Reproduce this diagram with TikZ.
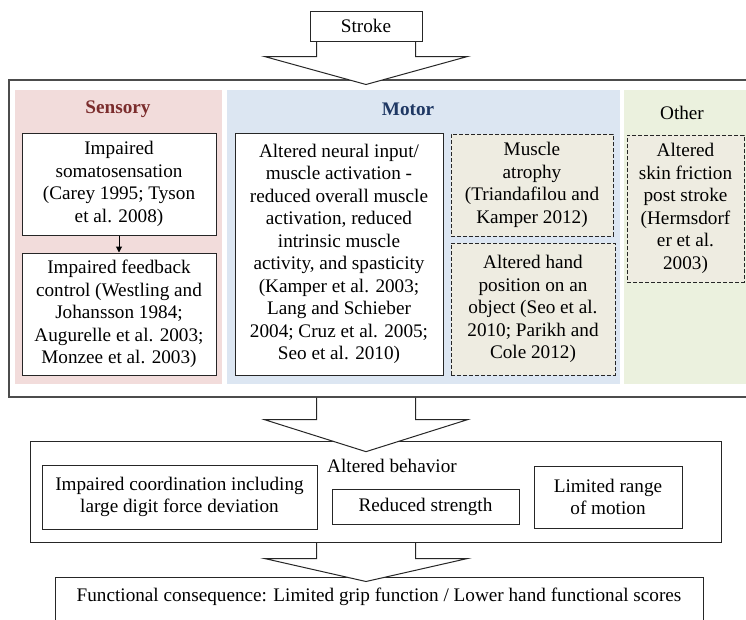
\documentclass[tikz,border=0pt]{standalone}
\usepackage{fontspec}
\setmainfont{Liberation Serif}
\usetikzlibrary{arrows.meta,calc}
\definecolor{sensefill}{HTML}{F2DCDB}
\definecolor{motorfill}{HTML}{DCE6F2}
\definecolor{otherfill}{HTML}{EBF1DE}
\definecolor{dashfill}{HTML}{EEECE1}
\definecolor{sensetitle}{HTML}{7B2D2D}
\definecolor{motortitle}{HTML}{1F3864}
\definecolor{lineclr}{HTML}{262626}
\newcommand\blockarrow[3]{%
  \fill[white] ($(#1)+(-101.5,#2)$) -- ($(#1)+(0,#2+#3)$) -- ($(#1)+(101.5,#2)$) -- cycle;
  \draw[bigarrow] ($(#1)+(-49.5,0)$) -- ++(0,#2) -- ++(-52,0) -- ++(101.5,#3) -- ++(101.5,-#3) -- ++(-52,0) -- ++(0,-#2);}
\begin{document}
\begin{tikzpicture}[x=1pt,y=-1pt,
  txt/.style={font=\fontsize{19.2}{22.5}\selectfont, inner sep=0pt, align=center},
  box/.style={txt, draw=lineclr, line width=1pt, fill=white},
  dbox/.style={box, fill=dashfill, dash pattern=on 4pt off 2pt},
  panel/.style={inner sep=0pt},
  outerbox/.style={draw=black!70, line width=1.3pt, inner sep=0pt},
  bigarrow/.style={draw=lineclr, line width=1pt},
  titletxt/.style={txt, font=\fontsize{19.2}{22.5}\selectfont\bfseries}]
\useasboundingbox (0,0) rectangle (746,619);
\clip (0,0) rectangle (746,619);

% outer box and panels
\node[outerbox, minimum width=741pt, minimum height=317pt] (outer) at (379.5,238.5) {};
\node[panel, fill=sensefill, minimum width=207pt, minimum height=294pt] (sens) at (118.5,237) {};
\node[panel, fill=motorfill, minimum width=393pt, minimum height=294pt] (mot) at (423.5,237) {};
\node[panel, fill=otherfill, minimum width=124pt, minimum height=294pt] (oth) at (686,237) {};

% stroke
\node[box, minimum width=112pt, minimum height=30pt] (stroke) at (366,26) {Stroke};
\blockarrow{stroke.south}{15}{28}

% titles
\node[titletxt, text=sensetitle] (senst) at (118,109) {Sensory};
\node[titletxt, text=motortitle] (mott) at (408,109) {Motor};
\node[txt] (otht) at (682,113) {Other};

% sensory boxes
\node[box, minimum width=194pt, minimum height=102pt] (s1) at (119,184)
  {Impaired\\somatosensation\\(Carey 1995; Tyson\\et al. 2008)};
\node[box, minimum width=194pt, minimum height=122pt] (s2) at (119,314)
  {Impaired feedback\\control (Westling and\\Johansson 1984;\\Augurelle et al. 2003;\\Monzee et al. 2003)};
\draw[line width=1pt, -{Triangle[length=6pt,width=6pt]}] (s1.south) -- (s2.north);

% motor boxes
\node[box, minimum width=208pt, minimum height=242pt] (m1) at (339,254)
  {Altered neural input/\\muscle activation -\\reduced overall muscle\\activation, reduced\\intrinsic muscle\\activity, and spasticity\\(Kamper et al. 2003;\\Lang and Schieber\\2004; Cruz et al. 2005;\\Seo et al. 2010)};
\node[dbox, minimum width=162pt, minimum height=102pt] (m2) at (532,185)
  {Muscle\\atrophy\\(Triandafilou and\\Kamper 2012)};
\node[dbox, minimum width=164pt, minimum height=132pt] (m3) at (533,309)
  {Altered hand\\position on an\\object (Seo et al.\\2010; Parikh and\\Cole 2012)};

% other box
\node[dbox, minimum width=117pt, minimum height=147pt] (o1) at (685.5,208.5)
  {Altered\\skin friction\\post stroke\\(Hermsdorf\\er et al.\\2003)};

% behavior
\node[box, minimum width=691pt, minimum height=101pt] (behav) at (375.5,491.5) {};
\coordinate (a2) at (stroke.south |- outer.south);
\blockarrow{a2}{22}{32}
\node[txt] (behavt) at (392,466) {Altered behavior};
\node[box, minimum width=275pt, minimum height=64pt] (b1) at (179.5,497)
  {Impaired coordination including\\large digit force deviation};
\node[box, minimum width=187pt, minimum height=35pt] (b2) at (425.5,506.5) {Reduced strength};
\node[box, minimum width=148pt, minimum height=62pt] (b3) at (608,497) {Limited range\\of motion};

% functional
\node[box, minimum width=648pt, minimum height=50pt, anchor=north] (func) at (379,577) {};
\coordinate (a3) at (stroke.south |- behav.south);
\blockarrow{a3}{16}{23}
\node[txt] (funct) at (379,597) {Functional consequence: Limited grip function / Lower hand functional scores};
\end{tikzpicture}
\end{document}
